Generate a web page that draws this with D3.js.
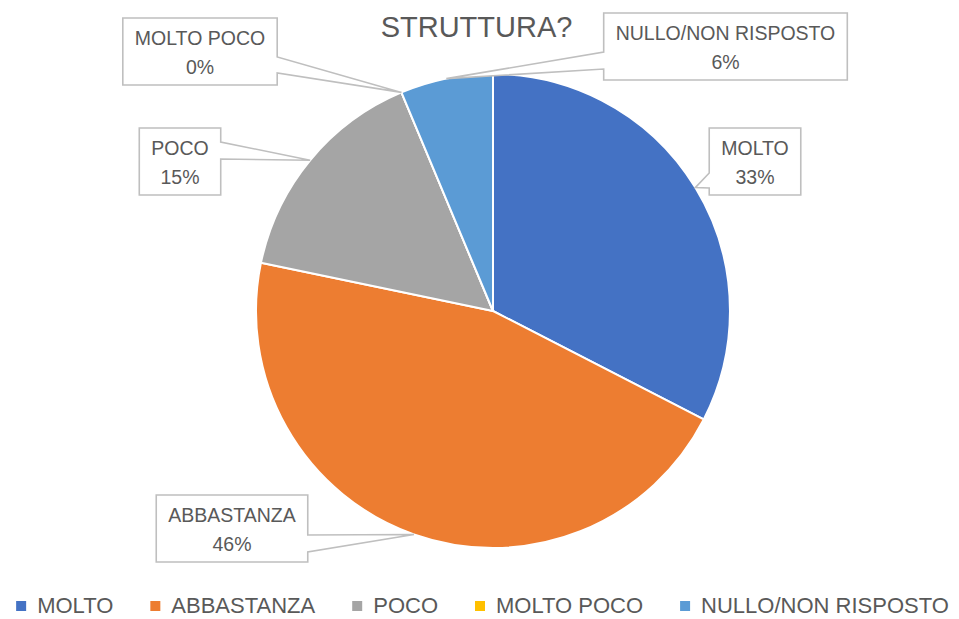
<!DOCTYPE html>
<html>
<head>
<meta charset="utf-8">
<script src="https://cdn.jsdelivr.net/npm/d3@7"></script>
<style>
  html, body { margin: 0; padding: 0; background: #ffffff; }
  svg { display: block; font-family: "Liberation Sans", Arial, sans-serif; }
</style>
</head>
<body>
<svg id="chart" width="959" height="619"></svg>
<script>
// ---- data ----
const title = "STRUTTURA?";
const categories = ["MOLTO", "ABBASTANZA", "POCO", "MOLTO POCO", "NULLO/NON RISPOSTO"];
const values = [32.5, 45.6, 15.4, 0, 6.3];
const colors = ["#4472C4", "#ED7D31", "#A5A5A5", "#FFC000", "#5B9BD5"];

// ---- layout (callout boxes) ----
const calloutLayout = [
  { cx: 755,   top: 128, side: "left",  b0: 45, b1: 60 },
  { cx: 232,   top: 495, side: "right", b0: 40, b1: 57 },
  { cx: 180,   top: 128, side: "right", b0: 14, b1: 31 },
  { cx: 200,   top: 18,  side: "right", b0: 39, b1: 55 },
  { cx: 725.5, top: 13,  side: "left",  b0: 39, b1: 56 }
];

const svg = d3.select("#chart");
const cx = 493, cy = 311, R = 237;
const textColor = "#595959";

// title
svg.append("text")
  .attr("x", 476.5).attr("y", 37)
  .attr("text-anchor", "middle")
  .attr("font-size", 29)
  .attr("fill", textColor)
  .text(title);

const data = categories.map((c, i) => ({ name: c, value: values[i], color: colors[i], layout: calloutLayout[i] }));
const total = d3.sum(values);

const pie = d3.pie().value(d => d.value).sort(null).startAngle(0).endAngle(2 * Math.PI);
const arcs = pie(data);
const arc = d3.arc().innerRadius(0).outerRadius(R);
const edgeArc = d3.arc().innerRadius(R).outerRadius(R);

const g = svg.append("g").attr("transform", `translate(${cx},${cy})`);
g.selectAll("path.slice")
  .data(arcs)
  .enter().append("path")
  .attr("class", "slice")
  .attr("d", arc)
  .attr("fill", d => d.data.color)
  .attr("stroke", "#ffffff")
  .attr("stroke-width", 2)
  .attr("stroke-linejoin", "round");

// callouts
const fontSize = 19.5;
const cg = svg.append("g");
arcs.forEach(d => {
  const L = d.data.layout;
  const pct = Math.round(d.data.value / total * 100) + "%";
  const grp = cg.append("g");
  const path = grp.append("path");
  const t1 = grp.append("text").attr("x", L.cx).attr("y", L.top + 27)
    .attr("text-anchor", "middle").attr("font-size", fontSize).attr("fill", textColor).text(d.data.name);
  const t2 = grp.append("text").attr("x", L.cx).attr("y", L.top + 56)
    .attr("text-anchor", "middle").attr("font-size", fontSize).attr("fill", textColor).text(pct);
  const w = Math.max(t1.node().getComputedTextLength(), t2.node().getComputedTextLength()) + 24;
  const h = 67;
  const x0 = L.cx - w / 2, x1 = L.cx + w / 2, y0 = L.top, y1 = L.top + h;
  const c = edgeArc.centroid(d);
  const tx = cx + c[0], ty = cy + c[1];
  let p;
  if (L.side === "right") {
    p = `M${x0},${y0}L${x1},${y0}L${x1},${y0 + L.b0}L${tx},${ty}L${x1},${y0 + L.b1}L${x1},${y1}L${x0},${y1}Z`;
  } else {
    p = `M${x0},${y0}L${x1},${y0}L${x1},${y1}L${x0},${y1}L${x0},${y0 + L.b1}L${tx},${ty}L${x0},${y0 + L.b0}Z`;
  }
  path.attr("d", p).attr("fill", "#ffffff").attr("stroke", "#BFBFBF").attr("stroke-width", 1.6)
    .attr("stroke-linejoin", "miter");
});

// legend
const legendFont = 22;
const legendGap = 37;
const lg = svg.append("g");
const items = [];
let xpos = 0;
data.forEach((d) => {
  const it = lg.append("g");
  it.append("rect").attr("x", 0).attr("y", -12).attr("width", 10).attr("height", 10).attr("fill", d.color);
  const t = it.append("text").attr("x", 21).attr("y", 0).attr("font-size", legendFont).attr("fill", textColor).text(d.name);
  const tw = t.node().getComputedTextLength();
  items.push({ g: it, x: xpos });
  xpos += 21 + tw + legendGap;
});
const totalW = xpos - legendGap;
const startX = 482.5 - totalW / 2;
items.forEach(it => it.g.attr("transform", `translate(${startX + it.x},613)`));
</script>
</body>
</html>
